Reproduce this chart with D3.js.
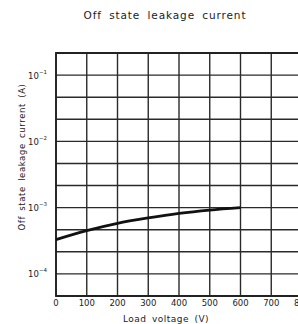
<!DOCTYPE html>
<html>
<head>
<meta charset="utf-8">
<script src="https://cdn.jsdelivr.net/npm/d3@7"></script>
<style>
  body { margin: 0; background: #fff; }
  text { font-family: "DejaVu Sans", sans-serif; fill: #222; }
</style>
</head>
<body>
<div id="chart"></div>
<script>
var width = 298;
var height = 324;

// data
var voltage = [0, 100, 200, 300, 400, 500, 600];
var leakage = [3.3e-4, 4.5e-4, 5.8e-4, 7.0e-4, 8.2e-4, 9.2e-4, 1.0e-3];
var xTicks = [0, 100, 200, 300, 400, 500, 600, 700, 800];
var yExponents = [-1, -2, -3, -4];

var margin = {top: 53, left: 56, bottom: 28};

var svg = d3.select('#chart')
    .append('svg')
    .attr('width', width)
    .attr('height', height);

var x = d3.scaleLinear()
    .domain([0, 800])
    .range([margin.left, 302]);

var y = d3.scaleLog()
    .domain([Math.pow(10, -13 / 3), Math.pow(10, -2 / 3)])
    .range([height - margin.bottom, margin.top]);

// grid: one line each third of a decade
var yGrid = d3.range(-13, -1).map(function (k) { return Math.pow(10, k / 3); });

svg.append('g')
    .selectAll('line')
    .data(yGrid)
    .enter()
    .append('line')
    .attr('x1', x(0))
    .attr('x2', width)
    .attr('y1', function (d) { return y(d); })
    .attr('y2', function (d) { return y(d); })
    .attr('stroke', '#2a2a2a')
    .attr('stroke-width', 1.4);

svg.append('g')
    .selectAll('line')
    .data(xTicks)
    .enter()
    .append('line')
    .attr('x1', function (d) { return x(d); })
    .attr('x2', function (d) { return x(d); })
    .attr('y1', y.range()[1])
    .attr('y2', y.range()[0])
    .attr('stroke', '#2a2a2a')
    .attr('stroke-width', 1.4);

// frame
svg.append('path')
    .attr('d', 'M' + width + ',' + y.range()[1] + 'H' + x(0) + 'V' + y.range()[0] + 'H' + width)
    .attr('fill', 'none')
    .attr('stroke', '#222')
    .attr('stroke-width', 1.8);

// curve
var line = d3.line()
    .x(function (d) { return x(d[0]); })
    .y(function (d) { return y(d[1]); })
    .curve(d3.curveMonotoneX);

svg.append('path')
    .datum(d3.zip(voltage, leakage))
    .attr('d', line)
    .attr('fill', 'none')
    .attr('stroke', '#111')
    .attr('stroke-width', 2.8);

// x tick labels
svg.append('g')
    .selectAll('text')
    .data(xTicks)
    .enter()
    .append('text')
    .attr('x', function (d) { return x(d); })
    .attr('y', 306)
    .attr('text-anchor', 'middle')
    .style('font-size', '8.5px')
    .text(function (d) { return d; });

// y tick labels 10^n
var yl = svg.append('g')
    .selectAll('text')
    .data(yExponents)
    .enter()
    .append('text')
    .attr('x', 47)
    .attr('y', function (d) { return y(Math.pow(10, d)) + 3.5; })
    .attr('text-anchor', 'end')
    .style('font-size', '8.5px');
yl.append('tspan').text('10');
yl.append('tspan')
    .attr('dy', -5)
    .style('font-size', '5.5px')
    .text(function (d) { return '\u2212' + Math.abs(d); });

// titles
svg.append('text')
    .attr('x', 165)
    .attr('y', 19)
    .attr('text-anchor', 'middle')
    .style('font-size', '10.5px')
    .style('letter-spacing', '0.9px')
    .style('word-spacing', '3px')
    .text('Off state leakage current');

svg.append('text')
    .attr('x', 166)
    .attr('y', 322)
    .attr('text-anchor', 'middle')
    .style('font-size', '9px')
    .style('letter-spacing', '0.5px')
    .style('word-spacing', '2px')
    .text('Load voltage (V)');

svg.append('text')
    .attr('transform', 'translate(25,157) rotate(-90)')
    .attr('text-anchor', 'middle')
    .style('font-size', '8.5px')
    .style('letter-spacing', '0.6px')
    .style('word-spacing', '2px')
    .text('Off state leakage current (A)');
</script>
</body>
</html>
